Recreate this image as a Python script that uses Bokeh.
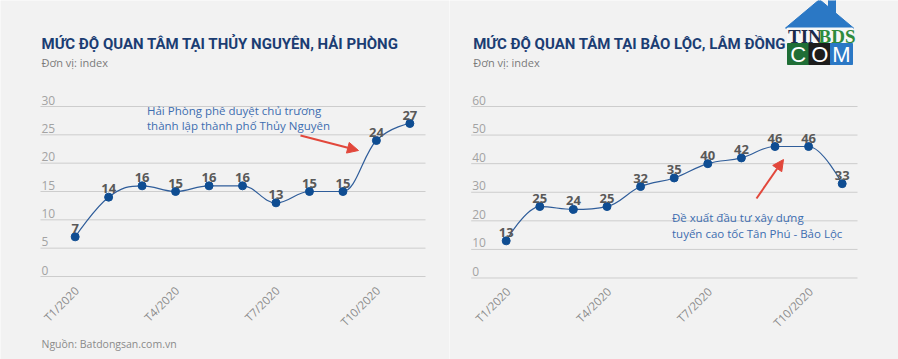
import numpy as np
from bokeh.plotting import figure
from bokeh.layouts import row
from bokeh.models import Arrow, NormalHead, Range1d
from bokeh.core.properties import value
from bokeh.embed import file_html
from bokeh.resources import INLINE

# ---------------- data ----------------
months = ["T1/2020", "T2/2020", "T3/2020", "T4/2020", "T5/2020", "T6/2020",
          "T7/2020", "T8/2020", "T9/2020", "T10/2020", "T11/2020"]
tick_labels = ["T1/2020", "T4/2020", "T7/2020", "T10/2020"]
hp_values = [7, 14, 16, 15, 16, 16, 13, 15, 15, 24, 27]
bl_values = [13, 25, 24, 25, 32, 35, 40, 42, 46, 46, 33]
hp_yticks = [0, 5, 10, 15, 20, 25, 30]
bl_yticks = [0, 10, 20, 30, 40, 50, 60]
hp_title = "MỨC ĐỘ QUAN TÂM TẠI THỦY NGUYÊN, HẢI PHÒNG"
bl_title = "MỨC ĐỘ QUAN TÂM TẠI BẢO LỘC, LÂM ĐỒNG"
unit_text = "Đơn vị: index"
source_text = "Nguồn: Batdongsan.com.vn"
hp_note = ["Hải Phòng phê duyệt chủ trương", "thành lập thành phố Thủy Nguyên"]
bl_note = ["Đề xuất đầu tư xây dựng", "tuyến cao tốc Tân Phú - Bảo Lộc"]

# ---------------- style ----------------
BG = "#f2f2f2"
NAVY = "#1b3d73"
LINE = "#2f5d9a"
DOT = "#0f4d92"
RED = "#e2473b"
NOTE = "#3d6db0"
FONT = value("Open Sans")
W, H, TOP = 449, 359, 0


def spline(xs, ys, s=1.5):
    n = len(xs)
    d = s + 1
    lc = [None] * n
    rc = [None] * n
    for i in range(1, n - 1):
        px, py = xs[i], ys[i]
        lx, ly = xs[i - 1], ys[i - 1]
        nx, ny = xs[i + 1], ys[i + 1]
        lcx = (s * px + lx) / d
        lcy = (s * py + ly) / d
        rcx = (s * px + nx) / d
        rcy = (s * py + ny) / d
        corr = ((rcy - lcy) * (rcx - px)) / (rcx - lcx) + py - rcy
        lcy += corr
        rcy += corr
        if lcy > ly and lcy > py:
            lcy = max(ly, py); rcy = 2 * py - lcy
        elif lcy < ly and lcy < py:
            lcy = min(ly, py); rcy = 2 * py - lcy
        if rcy > ny and rcy > py:
            rcy = max(ny, py); lcy = 2 * py - rcy
        elif rcy < ny and rcy < py:
            rcy = min(ny, py); lcy = 2 * py - rcy
        lc[i] = (lcx, lcy)
        rc[i] = (rcx, rcy)
    seg = dict(x0=[], y0=[], x1=[], y1=[], cx0=[], cy0=[], cx1=[], cy1=[])
    for i in range(1, n):
        c0 = rc[i - 1] or (xs[i - 1], ys[i - 1])
        c1 = lc[i] or (xs[i], ys[i])
        seg["x0"].append(xs[i - 1]); seg["y0"].append(ys[i - 1])
        seg["x1"].append(xs[i]); seg["y1"].append(ys[i])
        seg["cx0"].append(c0[0]); seg["cy0"].append(c0[1])
        seg["cx1"].append(c1[0]); seg["cy1"].append(c1[1])
    return seg


def panel(values, yticks, title, note, g):
    fl = g["fig_left"]
    X = lambda px: (px - g["x0"]) / g["dx"]
    Y = lambda py: (g["y0"] - py) / g["ky"]
    p = figure(width=W, height=H,
               x_range=Range1d(X(fl), X(fl + W)),
               y_range=Range1d(Y(TOP + H), Y(TOP)),
               output_backend="svg", toolbar_location=None,
               x_axis_location=None, y_axis_location=None,
               min_border=0, title=None,
               background_fill_color=BG, border_fill_color=BG,
               outline_line_color=None)
    p.grid.visible = False
    idx = list(range(len(values)))
    n = len(yticks)

    # grid lines
    p.segment(x0=[X(g["gx0"])] * n, x1=[X(g["gx1"])] * n, y0=yticks, y1=yticks,
              line_color="#cdcdcd", line_width=1)
    # y tick labels (above the lines)
    p.text(x=[X(g["gx0"] + 1)] * n, y=yticks, text=[str(t) for t in yticks],
           text_font=FONT, text_font_size="12px", text_color="#a3a3a3",
           text_align="left", text_baseline="bottom", y_offset=-2)
    # x tick labels
    tidx = [months.index(t) for t in tick_labels]
    p.text(x=tidx, y=[Y(g["xl_y"])] * len(tidx), text=tick_labels,
           angle=np.pi / 4, text_font=FONT, text_font_size="11.5px",
           text_color="#8c8c8c", text_align="right", text_baseline="middle",
           x_offset=g["xl_dx"])

    # spline line
    seg = spline(idx, values)
    p.bezier(line_color=LINE, line_width=1.2, **seg)
    p.scatter(idx, values, size=8, fill_color=DOT, line_color=DOT)
    p.text(idx, values, text=[str(v) for v in values], text_font=FONT,
           text_font_style="bold", text_font_size="13px", text_color="#595959",
           text_align="center", text_baseline="bottom", y_offset=-4)

    # titles
    p.text(x=[X(g["tx"])], y=[Y(43)], text=[title], text_font=value("Roboto"),
           text_font_style="bold", text_font_size=g["tsize"], text_color=NAVY,
           text_baseline="middle")
    p.text(x=[X(g["tx"])], y=[Y(62)], text=[unit_text], text_font=FONT,
           text_font_size="11px", text_color="#7a7a7a", text_baseline="middle")

    # annotation
    p.text(x=[X(g["nx"])] * 2, y=[Y(g["ny"]), Y(g["ny"] + 15.5)], text=note,
           text_font=FONT, text_font_size="11.5px", text_color=NOTE,
           text_baseline="middle")
    a = g["arrow"]
    p.add_layout(Arrow(end=NormalHead(size=11, fill_color=RED, line_color=RED),
                       x_start=X(a[0]), y_start=Y(a[1]), x_end=X(a[2]), y_end=Y(a[3]),
                       line_color=RED, line_width=2))
    return p, X, Y


gl = dict(fig_left=0, x0=74.67, dx=33.47, y0=276.0, ky=170.0 / 30,
          gx0=40, gx1=425, xl_y=288, xl_dx=1.5, tx=41, tsize="15px",
          nx=146.5, ny=109.5, arrow=(300, 135, 358, 150))
gr = dict(fig_left=449, x0=505.7, dx=33.6, y0=277.5, ky=171.5 / 60,
          gx0=470.7, gx1=857, xl_y=289, xl_dx=2, tx=472.7, tsize="15px",
          nx=671.5, ny=217.3, arrow=(756, 198, 783, 159))

p1, X1, Y1 = panel(hp_values, hp_yticks, hp_title, hp_note, gl)
p2, X2, Y2 = panel(bl_values, bl_yticks, bl_title, bl_note, gr)

# source
p1.text(x=[X1(41)], y=[Y1(343)], text=[source_text], text_font=FONT,
        text_font_size="10.5px", text_color="#8a8a8a", text_baseline="middle")

# logo (top right)
p2.patch([X2(785), X2(819), X2(853)], [Y2(27.5), Y2(-1), Y2(27.5)], color="#2b78c5")
p2.quad(left=[X2(828)], right=[X2(835)], top=[Y2(-1)], bottom=[Y2(14)], color="#2b78c5")
p2.quad(left=[X2(787)], right=[X2(852)], top=[Y2(27.5)], bottom=[Y2(43)], color="#f7f7f7")
p2.quad(left=[X2(787), X2(808.5), X2(830)], right=[X2(808.5), X2(830), X2(852)],
        top=[Y2(43)] * 3, bottom=[Y2(64)] * 3, color=["#1f6e36", "#1c1c1c", "#2b78c5"])
p2.text(x=[X2(787.5), X2(818)], y=[Y2(35.5)] * 2, text=["TIN", "BDS"],
        text_font=value("Liberation Sans Narrow"), text_font_style="bold",
        text_font_size="19px", text_color=["#1c2a48", "#2e8b3c"], text_baseline="middle")
p2.text(x=[X2(797.7), X2(819.2), X2(841)], y=[Y2(54)] * 3, text=["C", "O", "M"],
        text_font=value("Liberation Sans"), text_font_size="22px", text_color="white",
        text_align="center", text_baseline="middle")

layout = row(p1, p2)
open("out.html", "w").write(file_html(layout, INLINE))
